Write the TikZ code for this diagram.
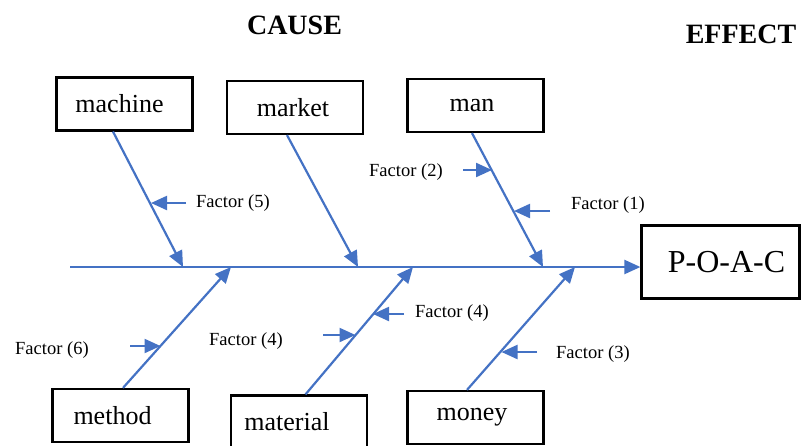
\documentclass[tikz,border=0pt]{standalone}
\usepackage{fontspec}
\setmainfont{Liberation Serif}
\usepackage{tikz}
\usetikzlibrary{arrows.meta,positioning,calc}
\definecolor{fbblue}{RGB}{68,114,196}
\tikzstyle{bone} = [line width=2.2pt,color=fbblue,-{Triangle[length=16pt,width=14pt]}]
\tikzstyle{catbox} = [draw,line width=2.2pt,minimum width=136pt,minimum height=53pt,inner sep=0pt,font=\fontsize{26}{28}\selectfont]
\tikzstyle{factor} = [anchor=base west,inner sep=0pt,font=\fontsize{18.5}{20}\selectfont]
\tikzstyle{heading} = [anchor=base,inner sep=0pt,font=\fontsize{28}{30}\selectfont\bfseries]
% move a label sideways inside its box
\newcommand{\nudge}[2]{\hspace*{#1}#2\hspace*{-#1}}

\begin{document}
\begin{tikzpicture}[x=1pt,y=-1pt]
    \useasboundingbox (0,0) rectangle (801,445);

    % Headings
    \node[heading] (cause) at (294.5,34) {CAUSE};
    \node[heading] (effect) at (741,43) {EFFECT};

    % Head
    \node[catbox,minimum width=158pt,minimum height=73pt,font=\fontsize{32}{34}\selectfont] (poac) at (720.5,262) {\nudge{6pt}{\raisebox{-4pt}{P-O-A-C}}};

    % Spine
    \coordinate (tail) at (70,267);
    \draw[bone] (tail) -- (tail -| poac.west);

    % Cause boxes
    \node[catbox] (machine) at (124.5,104) {\nudge{-5pt}{machine}};
    \node[catbox] (market) at (295,107.5) {\nudge{-2pt}{market}};
    \node[catbox] (man) at (475.5,105.5) {\nudge{-3.5pt}{man}};
    \node[catbox] (method) at (120.5,415.5) {\nudge{-8pt}{method}};
    \node[catbox] (material) at (299,422) {\nudge{-12pt}{material}};
    \node[catbox] (money) at (475.5,417.5) {\nudge{-3.5pt}{money}};

    % Joints on the spine
    \coordinate (j1) at (183,267);
    \coordinate (j2) at (358,267);
    \coordinate (j3) at (543,267);
    \coordinate (j4) at (231,267);
    \coordinate (j5) at (413,267);
    \coordinate (j6) at (575,267);

    % Bones
    \draw[bone] ([xshift=-11.5pt]machine.south) -- (j1);
    \draw[bone] ([xshift=-8pt]market.south) -- (j2);
    \draw[bone] ([xshift=-3.5pt]man.south) -- (j3);
    \draw[bone] ([xshift=2.5pt]method.north) -- (j4);
    \draw[bone] ([xshift=6.5pt]material.north) -- (j5);
    \draw[bone] ([xshift=-8.5pt]money.north) -- (j6);

    % Factors
    \node[factor] (f5) at (196,207) {Factor (5)};
    \node[factor] (f2) at (369,176) {Factor (2)};
    \node[factor] (f1) at (571,209) {Factor (1)};
    \node[factor] (f6) at (15,354) {Factor (6)};
    \node[factor] (f4a) at (209,345) {Factor (4)};
    \node[factor] (f4b) at (415,317) {Factor (4)};
    \node[factor] (f3) at (556,358) {Factor (3)};

    \coordinate (a5) at (186,203);   \coordinate (b5) at (151,203);
    \coordinate (a2) at (463,170);   \coordinate (b2) at (492,170);
    \coordinate (a1) at (550,211);   \coordinate (b1) at (514,211);
    \coordinate (a6) at (130,346);   \coordinate (b6) at (160.5,346);
    \coordinate (a4a) at (323,335);  \coordinate (b4a) at (355.5,335);
    \coordinate (a4b) at (404,314);  \coordinate (b4b) at (373,314);
    \coordinate (a3) at (537,352);   \coordinate (b3) at (501.5,352);

    \draw[bone] (a5) -- (b5);
    \draw[bone] (a2) -- (b2);
    \draw[bone] (a1) -- (b1);
    \draw[bone] (a6) -- (b6);
    \draw[bone] (a4a) -- (b4a);
    \draw[bone] (a4b) -- (b4b);
    \draw[bone] (a3) -- (b3);
\end{tikzpicture}
\end{document}
